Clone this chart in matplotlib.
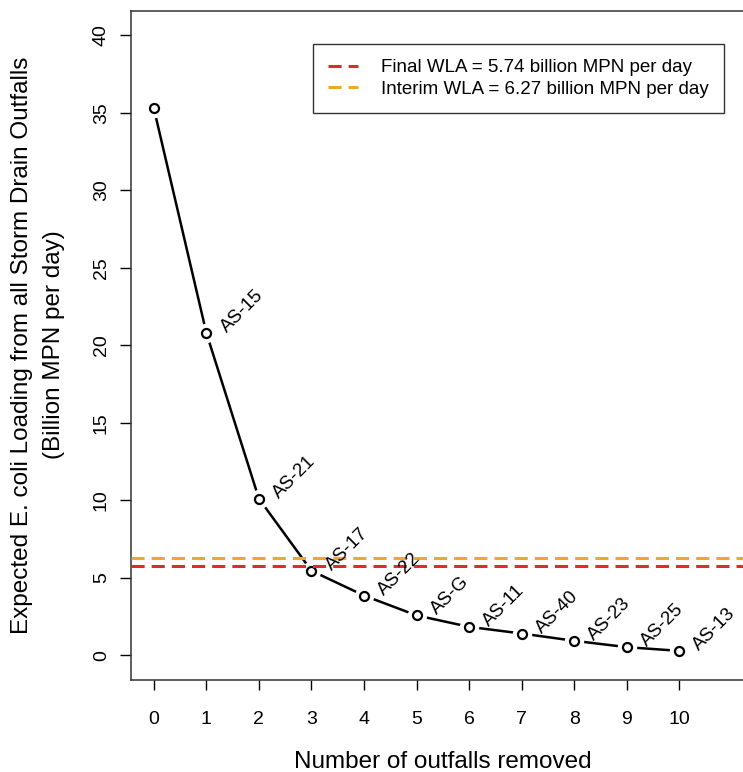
import numpy as np
import matplotlib
matplotlib.use("Agg")
import matplotlib.pyplot as plt

plt.rcParams['font.family'] = ['Liberation Sans', 'DejaVu Sans']

# data
n_removed = [0, 1, 2, 3, 4, 5, 6, 7, 8, 9, 10]
loading = [35.3, 20.8, 10.1, 5.45, 3.85, 2.57, 1.83, 1.40, 0.93, 0.52, 0.28]
outfall_labels = ['', 'AS-15', 'AS-21', 'AS-17', 'AS-22', 'AS-G', 'AS-11',
                  'AS-40', 'AS-23', 'AS-25', 'AS-13']
final_wla = 5.74
interim_wla = 6.27
red = '#DF2A2E'
orange = '#EFA82C'

fig = plt.figure(figsize=(7.43, 7.72), dpi=100)
ax = fig.add_axes([130.7 / 743, 92 / 772, (755 - 130.7) / 743, (680 - 10.7) / 772])

# line with gaps around points (R type="b")
ax.plot(n_removed, loading, color='black', lw=1.8, zorder=2)
ax.plot(n_removed, loading, 'o', ms=13, color='white', mec='white', zorder=3)
ax.plot(n_removed, loading, 'o', ms=6.5, mfc='white', mec='black', mew=1.6, zorder=4)

ax.axhline(final_wla, color=red, lw=2.2, ls=(0, (4.3, 2.3)), zorder=5,
           label='Final WLA = 5.74 billion MPN per day')
ax.axhline(interim_wla, color=orange, lw=2.2, ls=(0, (4.3, 2.3)), zorder=5,
           label='Interim WLA = 6.27 billion MPN per day')

for x, y, lab in zip(n_removed, loading, outfall_labels):
    if lab:
        ax.annotate(lab, (x, y), xytext=(14.5, 0), textcoords='offset points',
                    rotation=45, rotation_mode='anchor', ha='left', va='baseline',
                    fontsize=13.5, zorder=6)

ax.set_xlim(-0.44, 11.44)
ax.set_ylim(-1.6, 41.6)
ax.set_xticks(n_removed)
ax.set_yticks(range(0, 41, 5))
ax.tick_params(axis='x', length=7.5, width=1, labelsize=14, pad=15)
ax.tick_params(axis='y', length=8, width=1, labelsize=14, pad=7, labelrotation=90)
for lab in ax.get_yticklabels():
    lab.set_va('center')
for s in ax.spines.values():
    s.set_linewidth(1.1)
    s.set_color('#333333')

fig.text(38 / 743, 1 - 345 / 772,
         'Expected E. coli Loading from all Storm Drain Outfalls\n(Billion MPN per day)',
         rotation=90, ha='center', va='center', multialignment='center',
         fontsize=17.5, linespacing=1.56)
fig.text(443 / 743, 1 - 768 / 772, 'Number of outfalls removed',
         ha='center', va='baseline', fontsize=17.5)

leg = ax.legend(loc='upper left', bbox_to_anchor=(312.7 / 743, 1 - 44 / 772),
                bbox_transform=fig.transFigure, fontsize=13.5, frameon=True,
                fancybox=False, framealpha=1, edgecolor='#333333',
                handlelength=1.6, handletextpad=1.25, labelspacing=0.25,
                borderpad=0.8, borderaxespad=0)
leg.get_frame().set_linewidth(1.0)

fig.savefig('out.png', dpi=100)
